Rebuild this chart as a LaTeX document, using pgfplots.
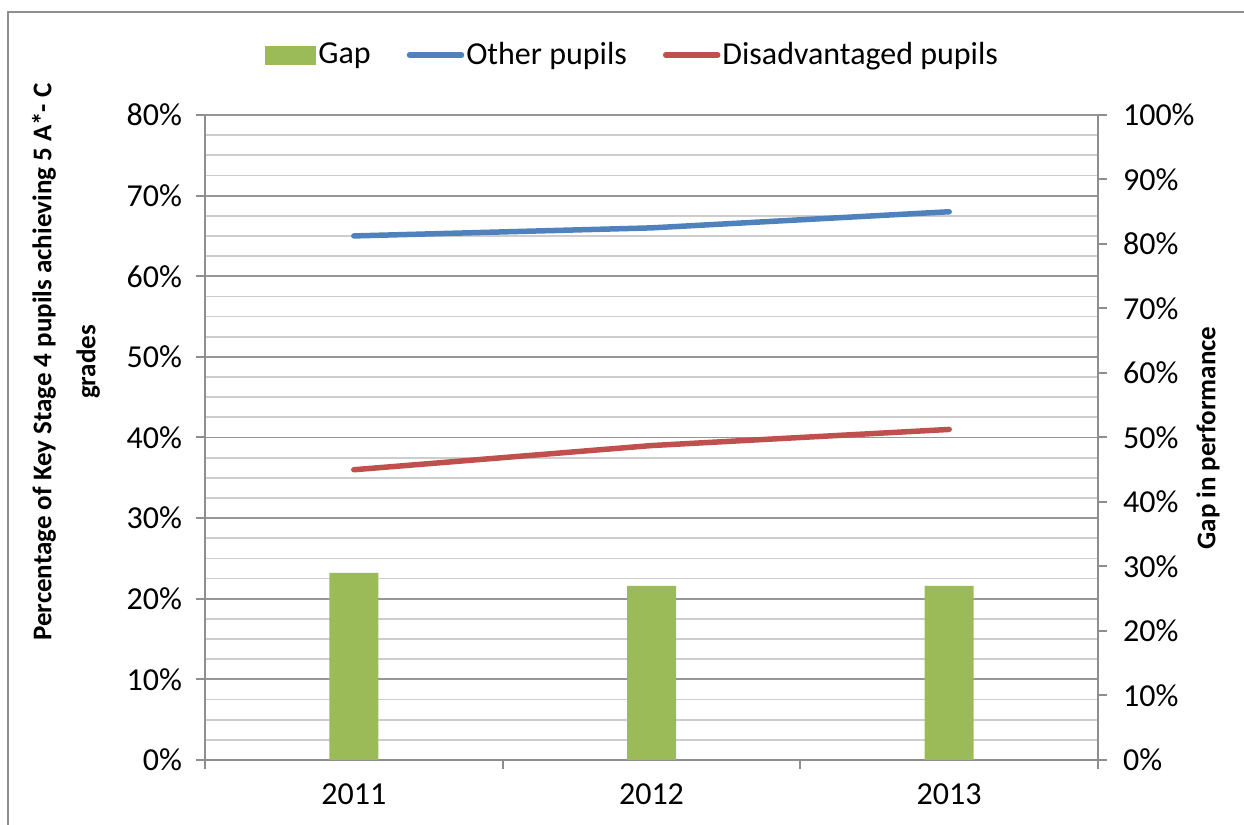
\documentclass[border=0pt]{standalone}
\usepackage{pgfplots}
\pgfplotsset{compat=1.18}
\usepackage{fontspec}
\setmainfont{Carlito}
\definecolor{cgreen}{HTML}{9BBB59}
\definecolor{cblue}{HTML}{4F81BD}
\definecolor{cred}{HTML}{C0504D}
\definecolor{axgray}{HTML}{8E8E8E}
\definecolor{majgray}{HTML}{969696}
\definecolor{mingray}{HTML}{CDCDCD}
\begin{document}
\begin{tikzpicture}[x=0.5pt,y=0.5pt]
\useasboundingbox (0,0) rectangle (1244,825);
\draw[color=axgray, line width=1pt] (8,0) -- (8,813) -- (1244,813);
\pgfplotsset{
  base/.style={
    at={(102.5pt,32.5pt)}, anchor=south west,
    scale only axis, width=446.5pt, height=322.5pt,
    xmin=-0.5, xmax=2.5,
    tick align=outside,
    major tick length=4.5pt, minor tick length=0pt,
    tick style={color=axgray, line width=1pt},
    axis line style={color=axgray, line width=1pt, -},
    ticklabel style={font=\fontsize{16}{19}\selectfont},
  }
}
% left axis with grid and lines
\begin{axis}[base,
  axis x line*=bottom, axis y line*=left,
  ymin=0, ymax=80,
  ytick={0,10,...,80},
  yticklabels={0\%,10\%,20\%,30\%,40\%,50\%,60\%,70\%,80\%},
  minor y tick num=3,
  ymajorgrids, yminorgrids,
  major grid style={color=majgray, line width=0.9pt},
  minor grid style={color=mingray, line width=0.9pt},
  xtick={-0.5,0.5,1.5,2.5}, xticklabels={},
  extra x ticks={0,1,2},
  extra x tick labels={2011,2012,2013},
  extra x tick style={major tick length=0pt, xticklabel style={yshift=-8.5pt}},
  yticklabel style={xshift=-3.5pt},
]
\addplot[color=cblue, line width=2.75pt, line cap=round] coordinates {(0,65) (1,66) (2,68)};
\addplot[color=cred, line width=2.75pt, line cap=round] coordinates {(0,36) (1,39) (2,41)};
\end{axis}
% right axis with bars
\begin{axis}[base,
  axis x line=none, axis y line*=right,
  ymin=0, ymax=100,
  ytick={0,10,...,100},
  yticklabels={0\%,10\%,20\%,30\%,40\%,50\%,60\%,70\%,80\%,90\%,100\%},
  yticklabel style={xshift=4.5pt},
  legend columns=3,
  legend style={draw=none, fill=none, at={(0.479,1.093)}, anchor=center,
    font=\fontsize{16}{19}\selectfont,
    nodes={inner sep=1pt},
    /tikz/every even column/.append style={column sep=17pt}},
]
\addplot[ybar, bar width=24.5pt, fill=cgreen, draw=none,
  legend image code/.code={\fill[cgreen] (0pt,-4.75pt) rectangle (25.5pt,4.75pt);}]
  coordinates {(0,29) (1,27) (2,27)};
\addlegendentry{Gap}
\addlegendimage{color=cblue, line width=2.75pt, line cap=round,
  legend image code/.code={\draw[cblue, line width=2.75pt, line cap=round] (1pt,0pt) -- (27pt,0pt);}}
\addlegendentry{Other pupils}
\addlegendimage{color=cred, line width=2.75pt, line cap=round,
  legend image code/.code={\draw[cred, line width=2.75pt, line cap=round] (1pt,0pt) -- (27pt,0pt);}}
\addlegendentry{Disadvantaged pupils}
\end{axis}
\node[rotate=90, align=center, font=\bfseries\fontsize{13.5}{22}\selectfont]
  at (66,463) {Percentage of Key Stage 4 pupils achieving 5 A*- C\\grades};
\node[rotate=90, font=\bfseries\fontsize{13.5}{16}\selectfont]
  at (1208,387) {Gap in performance};
\end{tikzpicture}
\end{document}
